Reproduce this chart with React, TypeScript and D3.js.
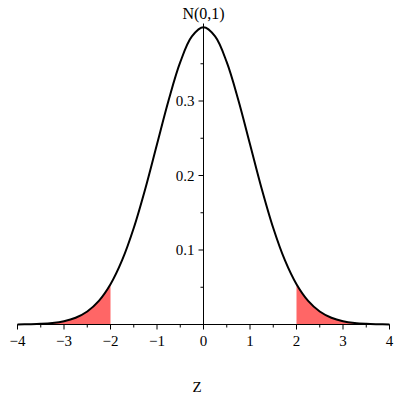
import React from "react";
import * as d3 from "d3";

// z values and standard normal density
const zValues = [-4, -3.75, -3.5, -3.25, -3, -2.75, -2.5, -2.25, -2, -1.75, -1.5, -1.25, -1, -0.75, -0.5, -0.25, 0, 0.25, 0.5, 0.75, 1, 1.25, 1.5, 1.75, 2, 2.25, 2.5, 2.75, 3, 3.25, 3.5, 3.75, 4];
const densityValues = [0.0001, 0.0004, 0.0009, 0.002, 0.0044, 0.0091, 0.0175, 0.0317, 0.054, 0.0863, 0.1295, 0.1826, 0.242, 0.3011, 0.3521, 0.3867, 0.3989, 0.3867, 0.3521, 0.3011, 0.242, 0.1826, 0.1295, 0.0863, 0.054, 0.0317, 0.0175, 0.0091, 0.0044, 0.002, 0.0009, 0.0004, 0.0001];
const xMajorTicks = [-4, -3, -2, -1, 0, 1, 2, 3, 4];
const xMinorTicks = [-3.5, -2.5, -1.5, -0.5, 0.5, 1.5, 2.5, 3.5];
const yMajorTicks = [0.1, 0.2, 0.3];
const yMinorTicks = [0.05, 0.15, 0.25, 0.35];
const tailCut = 2;
const titleText = "N(0,1)";
const xLabel = "Z";

export default function App() {
  const x = d3.scaleLinear().domain([-4, 4]).range([17.5, 389.5]);
  const y = d3.scaleLinear().domain([0, 0.4]).range([324.5, 26.5]);
  const pts = zValues.map((z, i) => ({ z, d: densityValues[i] }));
  const curve = d3.curveCatmullRom.alpha(0.5);
  const line = d3.line<{ z: number; d: number }>().x(p => x(p.z)).y(p => y(p.d)).curve(curve);
  const area = d3.area<{ z: number; d: number }>().x(p => x(p.z)).y0(y(0)).y1(p => y(p.d)).curve(curve);
  const leftTail = pts.filter(p => p.z <= -tailCut);
  const rightTail = pts.filter(p => p.z >= tailCut);
  const fmt = (v: number) => (v < 0 ? "\u2212" + Math.abs(v) : String(v));
  const textStyle = { fontFamily: '"Liberation Serif", "DejaVu Serif", serif' };
  const x0 = x(0);
  const yAxis = y(0);
  return (
    <svg width={400} height={400} style={{ position: "absolute", left: 0, top: 0, background: "#fff" }}>
      <rect x={0} y={0} width={400} height={400} fill="#fff" />
      <path d={area(leftTail) || ""} fill="#ff6666" />
      <path d={area(rightTail) || ""} fill="#ff6666" />
      {/* x axis */}
      <line x1={x(-4)} x2={x(4)} y1={yAxis} y2={yAxis} stroke="#000" strokeWidth={1} />
      {xMajorTicks.map(t => (
        <g key={"xm" + t}>
          <line x1={x(t)} x2={x(t)} y1={yAxis} y2={yAxis + 5} stroke="#000" strokeWidth={1} />
          <text x={x(t)} y={346} textAnchor="middle" style={textStyle} fontSize={15} fill="#000">{fmt(t)}</text>
        </g>
      ))}
      {xMinorTicks.map(t => (
        <line key={"xn" + t} x1={x(t)} x2={x(t)} y1={yAxis} y2={yAxis + 3} stroke="#000" strokeWidth={1} />
      ))}
      {/* y axis */}
      <line x1={x0} x2={x0} y1={yAxis} y2={y(0.4) - 3} stroke="#000" strokeWidth={1} />
      {yMajorTicks.map(t => (
        <g key={"ym" + t}>
          <line x1={x0 - 5} x2={x0} y1={y(t)} y2={y(t)} stroke="#000" strokeWidth={1} />
          <text x={x0 - 9} y={y(t) + 5} textAnchor="end" style={textStyle} fontSize={15} fill="#000">{String(t)}</text>
        </g>
      ))}
      {yMinorTicks.map(t => (
        <line key={"yn" + t} x1={x0 - 3} x2={x0} y1={y(t)} y2={y(t)} stroke="#000" strokeWidth={1} />
      ))}
      <path d={line(pts) || ""} fill="none" stroke="#000" strokeWidth={2} />
      <text x={x0} y={19} textAnchor="middle" style={textStyle} fontSize={16} fill="#000">{titleText}</text>
      <text x={197} y={392} textAnchor="middle" style={textStyle} fontSize={15} fill="#000">{xLabel}</text>
    </svg>
  );
}
